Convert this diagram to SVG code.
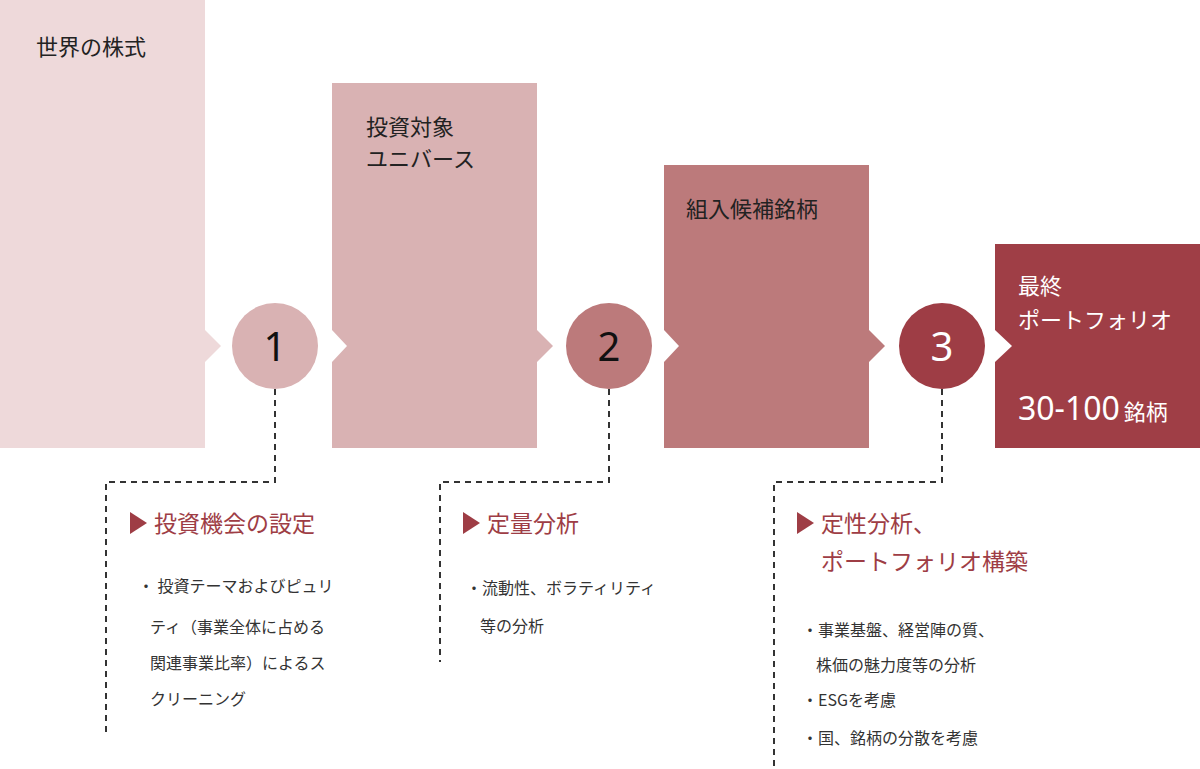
<svg xmlns="http://www.w3.org/2000/svg" width="1200" height="769" viewBox="0 0 1200 769">
<style>
text{font-family:"Noto Sans CJK JP","Noto Sans",sans-serif;}
.bt{font-size:22px;fill:#222;}
.wt{font-size:22px;fill:#fff;}
.num{font-size:40px;font-family:"Noto Sans",sans-serif;}
.hd{font-size:23px;fill:#9e3d45;}
.tx{font-size:16px;fill:#333;}
.dash{fill:none;stroke:#333;stroke-width:2;stroke-dasharray:6 5;}
</style>
<rect width="1200" height="769" fill="#fff"/>
<g id="box1">
<path d="M0 0H205V330L221 346L205 362V448H0Z" fill="#eed9da"/>
<text class="bt" x="36" y="55">世界の株式</text>
</g>
<g id="box2">
<path d="M332 83H537V330L553 346L537 362V448H332V362L347 346L332 330Z" fill="#d9b2b3"/>
<text class="bt" x="366" y="135">投資対象</text>
<text class="bt" x="366" y="167">ユニバース</text>
</g>
<g id="box3">
<path d="M664 165H869V330L885 346L869 362V448H664V362L679 346L664 330Z" fill="#bc7a7b"/>
<text class="bt" x="686" y="217">組入候補銘柄</text>
</g>
<g id="box4">
<path d="M995 244H1200V448H995V362L1012 346L995 330Z" fill="#9f3e46"/>
<text class="wt" x="1018" y="294">最終</text>
<text class="wt" x="1018" y="328">ポートフォリオ</text>
<text class="wt" x="1018" y="420" style="font-family:'Noto Sans',sans-serif;font-size:32px">30-100<tspan style="font-family:'Noto Sans CJK JP',sans-serif;font-size:22px" dx="4">銘柄</tspan></text>
</g>
<g id="c1"><circle cx="275" cy="346" r="43" fill="#d9b2b3"/><text class="num" x="275" y="361" text-anchor="middle" fill="#111">1</text></g>
<g id="c2"><circle cx="609" cy="346" r="43" fill="#bc7a7b"/><text class="num" x="609" y="361" text-anchor="middle" fill="#111">2</text></g>
<g id="c3"><circle cx="942" cy="346" r="43" fill="#9e3d45"/><text class="num" x="942" y="361" text-anchor="middle" fill="#fff">3</text></g>
<g id="connectors">
<path class="dash" d="M275 389V482H106V732"/>
<path class="dash" d="M609 389V482H440V662"/>
<path class="dash" d="M942 389V482H774V769"/>
</g>
<g id="step1">
<path d="M130 512L147 523L130 534Z" fill="#9e3d45"/>
<text class="hd" x="154" y="532">投資機会の設定</text>
<text class="tx" x="138" y="592">・ 投資テーマおよびピュリ</text>
<text class="tx" x="150" y="633">ティ（事業全体に占める</text>
<text class="tx" x="150" y="669">関連事業比率）によるス</text>
<text class="tx" x="150" y="705">クリーニング</text>
</g>
<g id="step2">
<path d="M463 512L480 523L463 534Z" fill="#9e3d45"/>
<text class="hd" x="487" y="532">定量分析</text>
<text class="tx" x="466" y="594">・流動性、ボラティリティ</text>
<text class="tx" x="480" y="632">等の分析</text>
</g>
<g id="step3">
<path d="M797 512L814 523L797 534Z" fill="#9e3d45"/>
<text class="hd" x="821" y="532">定性分析、</text>
<text class="hd" x="821" y="570">ポートフォリオ構築</text>
<text class="tx" x="802" y="636">・事業基盤、経営陣の質、</text>
<text class="tx" x="816" y="671">株価の魅力度等の分析</text>
<text class="tx" x="802" y="706">・ESGを考慮</text>
<text class="tx" x="802" y="744">・国、銘柄の分散を考慮</text>
</g>
</svg>
